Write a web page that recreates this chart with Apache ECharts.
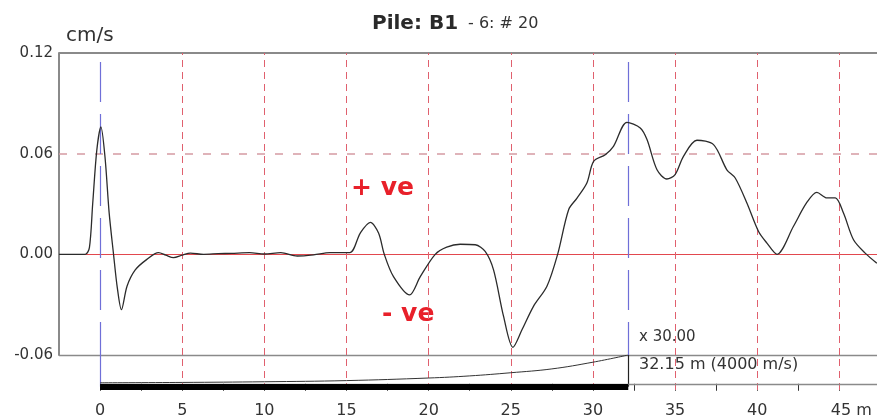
<!DOCTYPE html>
<html>
<head>
<meta charset="utf-8">
<script src="https://cdn.jsdelivr.net/npm/echarts@6/dist/echarts.min.js"></script>
<style>
  html, body { margin: 0; padding: 0; background: #fff; }
  #chart { width: 877px; height: 419px; }
</style>
</head>
<body>
<div id="chart"></div>
<script>
// Velocity trace of the pile integrity test: [depth m, velocity cm/s]
const velocityTrace = [
  [-2.5, 0], [-1.5, 0], [-0.9, 0], [-0.65, 0.004], [-0.45, 0.03], [-0.2, 0.062], [0.05, 0.076],
  [0.3, 0.058], [0.55, 0.025], [0.82, 0], [1.05, -0.02], [1.3, -0.033], [1.64, -0.019], [2.14, -0.0093],
  [2.85, -0.003], [3.56, 0.001], [4.0, -0.0005], [4.47, -0.002], [5.0, -0.0005], [5.5, 0.0007],
  [6.3, 0], [7.2, 0.0004], [8.0, 0.0006], [9.1, 0.001], [10.0, 0.0002], [11.0, 0.001],
  [12.0, -0.001], [13.0, -0.0003], [14.0, 0.001], [15.2, 0.001], [15.84, 0.0127], [16.45, 0.019],
  [16.95, 0.0127], [17.3, 0], [17.86, -0.0133], [18.84, -0.0242], [19.49, -0.0133], [20.4, 0],
  [21.1, 0.0043], [21.92, 0.006], [22.84, 0.0057], [23.44, 0.0017], [23.95, -0.0093], [24.56, -0.037],
  [25.13, -0.0554], [25.68, -0.045], [26.38, -0.031], [27.2, -0.019], [27.85, 0], [28.52, 0.0266],
  [29.03, 0.0335], [29.63, 0.0425], [30.04, 0.0554], [30.75, 0.0594], [31.25, 0.0644], [32.07, 0.0787],
  [32.88, 0.0753], [33.29, 0.0684], [33.9, 0.0504], [34.5, 0.0449], [35.0, 0.0475], [35.51, 0.0584],
  [36.33, 0.068], [37.34, 0.0654], [38.15, 0.0504], [38.66, 0.0455], [39.37, 0.0306], [40.08, 0.0136],
  [40.59, 0.0067], [41.2, 0], [42.2, 0.0166], [43.0, 0.0306], [43.63, 0.0369], [44.24, 0.0336],
  [44.75, 0.0336], [45.25, 0.0246], [45.86, 0.0087], [46.57, 0.0007], [47.28, -0.0053]
];

// Amplification (gain) applied along the pile: [depth m, gain]
const gainCurve = [
  [0, 1], [5, 1.4], [10, 2.1], [15, 3.3], [20, 6], [22.5, 8.2], [25, 11.5],
  [27.5, 15.5], [30, 22.5], [32.15, 30]
];

const depthLabels = [0, 5, 10, 15, 20, 25, 30, 35, 40, 45];
const depthTicks = [0, 2.5, 5, 7.5, 10, 12.5, 15, 17.5, 20, 22.5, 25, 27.5, 30, 32.5, 35, 37.5, 40, 42.5, 45];
const gridDepths = [5, 10, 15, 20, 25, 30, 35, 40, 45];
const velocityTicks = [-0.06, 0, 0.06, 0.12];

const pileLength = 32.15;   // m
const waveSpeed = 4000;     // m/s
const maxGain = 30.00;

const X_MIN = -2.5, X_MAX = 47.29;
const FONT = '"DejaVu Sans", "Liberation Sans", sans-serif';

const redDash = { color: '#e0606e', width: 1, type: [7, 5] };
const blueDash = { color: '#6f6fd8', width: 1.2, type: [40, 12] };

const chart = echarts.init(document.getElementById('chart'), null, { renderer: 'canvas' });

chart.setOption({
  animation: false,
  backgroundColor: '#fff',
  title: {
    left: 367, top: 9,
    text: '{a|Pile: B1}  {b|- 6: # 20}',
    textStyle: {
      rich: {
        a: { fontFamily: FONT, fontSize: 20, fontWeight: 'bold', color: '#2a2a2a' },
        b: { fontFamily: FONT, fontSize: 16, fontWeight: 'normal', color: '#333' }
      }
    }
  },
  grid: [
    { left: 59, right: 0, top: 53, height: 302 },
    { left: 59, right: 0, top: 355, height: 35 }
  ],
  xAxis: [
    { gridIndex: 0, type: 'value', min: X_MIN, max: X_MAX, show: false },
    {
      gridIndex: 1, type: 'value', min: X_MIN, max: X_MAX,
      axisLine: { show: false },
      splitLine: { show: false },
      axisTick: { show: true, customValues: depthTicks, length: 7, lineStyle: { color: '#333', width: 1 } },
      axisLabel: {
        customValues: depthLabels, margin: 13,
        fontFamily: FONT, fontSize: 16, color: '#333',
        formatter: v => v === 45 ? '{u|45 m}' : String(v),
        rich: { u: { fontFamily: FONT, fontSize: 16, color: '#333', padding: [0, 0, 0, 24] } }
      }
    }
  ],
  yAxis: [
    {
      gridIndex: 0, type: 'value', min: -0.06, max: 0.12,
      axisLine: { show: true, onZero: false, lineStyle: { color: '#8a8a8a', width: 2 } },
      axisTick: { show: false },
      splitLine: { show: false },
      axisLabel: {
        customValues: velocityTicks, margin: 6,
        fontFamily: FONT, fontSize: 15, color: '#333',
        formatter: v => v.toFixed(2)
      }
    },
    { gridIndex: 1, type: 'value', min: -6.5, max: 30, show: false }
  ],
  series: [
    {
      name: 'velocity', type: 'line', xAxisIndex: 0, yAxisIndex: 0,
      data: velocityTrace, showSymbol: false, smooth: 0.3,
      lineStyle: { color: '#2b2b2b', width: 1.3 },
      z: 5,
      markLine: {
        silent: true, symbol: 'none', label: { show: false }, animation: false,
        data: [
          { yAxis: 0.06, lineStyle: { color: '#d59aa2', width: 1.5, type: [8, 10] } },
          { yAxis: 0, lineStyle: { color: '#e2484e', width: 1.2, type: 'solid' } },
          { yAxis: 0.12, lineStyle: { color: '#8a8a8a', width: 2, type: 'solid' } },
          { yAxis: -0.06, lineStyle: { color: '#8a8a8a', width: 1.3, type: 'solid' } },
          ...gridDepths.map(d => ({ xAxis: d, lineStyle: redDash })),
          [{ coord: [0, 0.1146], lineStyle: blueDash }, { coord: [0, -0.06] }],
          [{ coord: [pileLength, 0.1146], lineStyle: blueDash }, { coord: [pileLength, -0.06] }]
        ]
      }
    },
    {
      name: 'gain', type: 'line', xAxisIndex: 1, yAxisIndex: 1,
      data: gainCurve, showSymbol: false, smooth: 0.4,
      lineStyle: { color: '#333', width: 1 },
      z: 5,
      markLine: {
        silent: true, symbol: 'none', label: { show: false }, animation: false,
        data: [
          ...gridDepths.map(d => ({ xAxis: d, lineStyle: redDash })),
          [{ coord: [0, 30], lineStyle: { color: '#6f6fd8', width: 1.2, type: 'solid' } }, { coord: [0, -3] }],
          [{ coord: [pileLength, 30], lineStyle: { color: '#222', width: 1.2, type: 'solid' } }, { coord: [pileLength, -3] }],
          [{ coord: [0, 0], lineStyle: { color: '#8a8a8a', width: 1.3, type: 'solid' } }, { coord: [X_MAX, 0] }],
          [{ coord: [0, -3.3], lineStyle: { color: '#000', width: 6, type: 'solid', cap: 'butt' } }, { coord: [pileLength, -3.3] }]
        ]
      }
    }
  ],
  graphic: [
    { type: 'text', left: 66, top: 26, style: { text: 'cm/s', font: '20px ' + FONT, fill: '#333' } },
    { type: 'text', left: 351, top: 176, style: { text: '+ ve', font: 'bold 25px ' + FONT, fill: '#e8202a' } },
    { type: 'text', left: 382, top: 302, style: { text: '- ve', font: 'bold 25px ' + FONT, fill: '#e8202a' } },
    { type: 'text', left: 639, top: 330, style: { text: 'x ' + maxGain.toFixed(2), font: '15px ' + FONT, fill: '#333' } },
    { type: 'text', left: 639, top: 357, style: { text: pileLength.toFixed(2) + ' m (' + waveSpeed + ' m/s)', font: '16px ' + FONT, fill: '#333' } }
  ]
});
</script>
</body>
</html>
